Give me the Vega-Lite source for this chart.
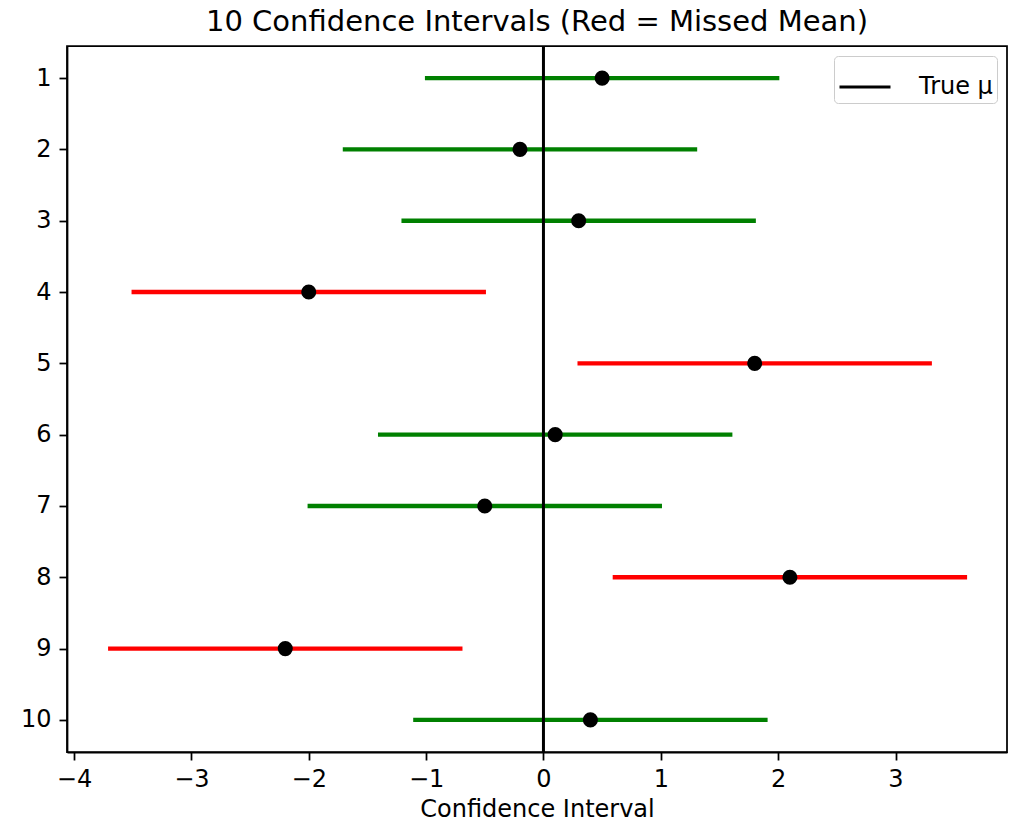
{
  "$schema": "https://vega.github.io/schema/vega-lite/v6.json",
  "width": 940,
  "height": 706,
  "autosize": {"type": "none"},
  "padding": {"left": 67, "top": 46, "right": 2, "bottom": 71},
  "background": "white",
  "config": {
    "font": "DejaVu Sans",
    "view": {"stroke": "black", "strokeWidth": 1.75},
    "axis": {
      "domainColor": "black", "domainWidth": 1.75,
      "tickColor": "black", "tickWidth": 1.75, "tickSize": 8,
      "labelColor": "black", "labelFontSize": 24, "labelPadding": 7,
      "titleColor": "black", "titleFontSize": 24, "titleFontWeight": "normal",
      "grid": false
    }
  },
  "title": {"text": "10 Confidence Intervals (Red = Missed Mean)", "fontSize": 29, "fontWeight": "normal", "color": "black", "offset": 8, "font": "DejaVu Sans"},
  "datasets": {
    "ci": [
      {"sample": 1, "mean": 0.5, "lower": -1.01, "upper": 2.01, "status": "hit"},
      {"sample": 2, "mean": -0.2, "lower": -1.71, "upper": 1.31, "status": "hit"},
      {"sample": 3, "mean": 0.3, "lower": -1.21, "upper": 1.81, "status": "hit"},
      {"sample": 4, "mean": -2.0, "lower": -3.51, "upper": -0.49, "status": "miss"},
      {"sample": 5, "mean": 1.8, "lower": 0.29, "upper": 3.31, "status": "miss"},
      {"sample": 6, "mean": 0.1, "lower": -1.41, "upper": 1.61, "status": "hit"},
      {"sample": 7, "mean": -0.5, "lower": -2.01, "upper": 1.01, "status": "hit"},
      {"sample": 8, "mean": 2.1, "lower": 0.59, "upper": 3.61, "status": "miss"},
      {"sample": 9, "mean": -2.2, "lower": -3.71, "upper": -0.69, "status": "miss"},
      {"sample": 10, "mean": 0.4, "lower": -1.11, "upper": 1.91, "status": "hit"}
    ],
    "truth": [{"mu": 0, "label": "True μ"}]
  },
  "layer": [
    {
      "data": {"name": "ci"},
      "mark": {"type": "rule", "strokeWidth": 4.4},
      "encoding": {
        "x": {"field": "lower", "type": "quantitative", "scale": {"domain": [-4.06, 3.95], "nice": false, "zero": false},
              "axis": {"values": [-4, -3, -2, -1, 0, 1, 2, 3], "format": "d", "title": "Confidence Interval", "titlePadding": 6}},
        "x2": {"field": "upper"},
        "y": {"field": "sample", "type": "quantitative", "scale": {"domain": [0.55, 10.45], "reverse": true, "nice": false, "zero": false},
              "axis": {"values": [1, 2, 3, 4, 5, 6, 7, 8, 9, 10], "format": "d", "title": null, "labelPadding": 8}},
        "color": {"field": "status", "type": "nominal", "scale": {"domain": ["hit", "miss"], "range": ["#008000", "#ff0000"]}, "legend": null}
      }
    },
    {
      "data": {"name": "truth"},
      "mark": {"type": "rule", "strokeWidth": 3},
      "encoding": {
        "x": {"field": "mu", "type": "quantitative"},
        "stroke": {"field": "label", "type": "nominal", "scale": {"range": ["black"]},
                   "legend": {"title": null, "orient": "top-right", "offset": 10, "padding": 4, "strokeColor": "#cccccc", "fillColor": "white", "cornerRadius": 4,
                              "symbolType": "stroke", "symbolSize": 2600, "symbolStrokeWidth": 3, "labelFontSize": 24, "labelColor": "black", "labelOffset": 27}}
      }
    },
    {
      "data": {"name": "ci"},
      "mark": {"type": "point", "filled": true, "color": "black", "size": 227, "opacity": 1},
      "encoding": {
        "x": {"field": "mean", "type": "quantitative"},
        "y": {"field": "sample", "type": "quantitative"}
      }
    }
  ]
}
